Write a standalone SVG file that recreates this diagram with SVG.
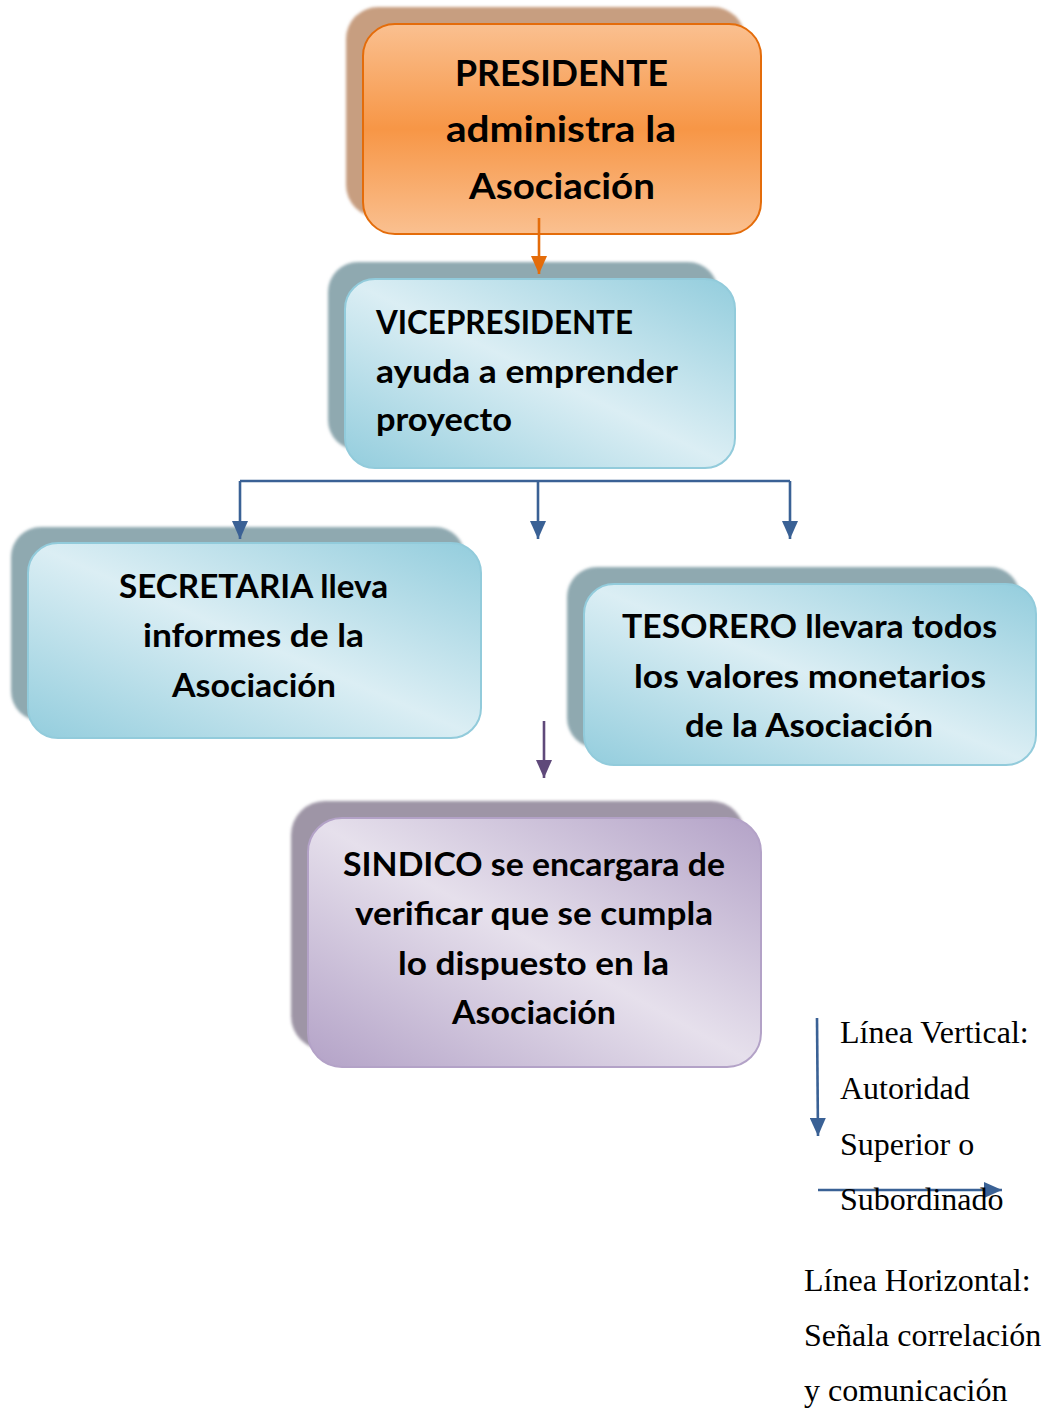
<svg xmlns="http://www.w3.org/2000/svg" width="1043" height="1408" viewBox="0 0 1043 1408">
<defs>
<linearGradient id="gOrange" x1="0" y1="0" x2="0" y2="1">
<stop offset="0" stop-color="#fac090"/>
<stop offset="0.5" stop-color="#f79646"/>
<stop offset="1" stop-color="#fac090"/>
</linearGradient>
<linearGradient id="gBlue" x1="0" y1="1" x2="1" y2="0">
<stop offset="0" stop-color="#93cddd"/>
<stop offset="0.5" stop-color="#dbeef4"/>
<stop offset="1" stop-color="#93cddd"/>
</linearGradient>
<linearGradient id="gPurple" x1="0" y1="1" x2="1" y2="0">
<stop offset="0" stop-color="#b3a2c7"/>
<stop offset="0.5" stop-color="#e6e0ec"/>
<stop offset="1" stop-color="#b3a2c7"/>
</linearGradient>
<filter id="blur" x="-10%" y="-10%" width="120%" height="120%">
<feGaussianBlur stdDeviation="1.5"/>
</filter>
<marker id="aBlue" viewBox="0 0 18 16" refX="18" refY="8" markerWidth="18" markerHeight="16" orient="auto" markerUnits="userSpaceOnUse">
<path d="M0,0 L18,8 L0,16 z" fill="#3a6195"/>
</marker>
<marker id="aOrange" viewBox="0 0 18 16" refX="18" refY="8" markerWidth="18" markerHeight="16" orient="auto" markerUnits="userSpaceOnUse">
<path d="M0,0 L18,8 L0,16 z" fill="#e46c0a"/>
</marker>
<marker id="aPurple" viewBox="0 0 18 16" refX="18" refY="8" markerWidth="18" markerHeight="16" orient="auto" markerUnits="userSpaceOnUse">
<path d="M0,0 L18,8 L0,16 z" fill="#5f497a"/>
</marker>
</defs>
<style>
.t{font-family:Lato,"Liberation Sans",sans-serif;font-weight:bold;fill:#000;font-size:33px}
.big{font-size:36px}
.c{text-anchor:middle}
.leg{font-family:"Liberation Serif","Times New Roman",serif;font-size:32px;fill:#000}
.shB{fill:#8fa9b0}
.shP{fill:#9e95a6}
.shO{fill:#c79e80}
.boxB{fill:url(#gBlue);stroke:#92cbdb;stroke-width:2}
.boxP{fill:url(#gPurple);stroke:#b3a2c7;stroke-width:2}
.boxO{fill:url(#gOrange);stroke:#e46c0a;stroke-width:2}
.lb{stroke:#3a6195;stroke-width:2.6;fill:none}
</style>

<g id="presidente">
<rect class="shO" x="346" y="7" width="399" height="210" rx="32" filter="url(#blur)"/>
<rect class="boxO" x="363" y="24" width="398" height="210" rx="32"/>
<text class="t big c" x="561.5" y="86" textLength="213" lengthAdjust="spacingAndGlyphs">PRESIDENTE</text>
<text class="t big c" x="561" y="142" textLength="230" lengthAdjust="spacingAndGlyphs">administra la</text>
<text class="t big c" x="562" y="199" textLength="186" lengthAdjust="spacingAndGlyphs">Asociación</text>
</g>

<g id="vicepresidente">
<rect class="shB" x="328" y="262" width="390" height="188" rx="30" filter="url(#blur)"/>
<rect class="boxB" x="345" y="279" width="390" height="189" rx="30"/>
<text class="t" x="376" y="334" textLength="257" lengthAdjust="spacingAndGlyphs">VICEPRESIDENTE</text>
<text class="t" x="376" y="383" textLength="302" lengthAdjust="spacingAndGlyphs">ayuda a emprender</text>
<text class="t" x="376" y="431" textLength="136" lengthAdjust="spacingAndGlyphs">proyecto</text>
</g>

<g id="secretaria">
<rect class="shB" x="11" y="527" width="454" height="194" rx="30" filter="url(#blur)"/>
<rect class="boxB" x="28" y="543" width="453" height="195" rx="30"/>
<text class="t c" x="253.5" y="598" textLength="269" lengthAdjust="spacingAndGlyphs">SECRETARIA lleva</text>
<text class="t c" x="253.5" y="647" textLength="221" lengthAdjust="spacingAndGlyphs">informes de la</text>
<text class="t c" x="254" y="697" textLength="164" lengthAdjust="spacingAndGlyphs">Asociación</text>
</g>

<g id="tesorero">
<rect class="shB" x="567" y="567" width="453" height="181" rx="30" filter="url(#blur)"/>
<rect class="boxB" x="584" y="584" width="452" height="181" rx="30"/>
<text class="t c" x="809.5" y="638" textLength="375" lengthAdjust="spacingAndGlyphs">TESORERO llevara todos</text>
<text class="t c" x="810" y="688" textLength="352" lengthAdjust="spacingAndGlyphs">los valores monetarios</text>
<text class="t c" x="809" y="737" textLength="248" lengthAdjust="spacingAndGlyphs">de la Asociación</text>
</g>

<g id="sindico">
<rect class="shP" x="291" y="801" width="454" height="249" rx="34" filter="url(#blur)"/>
<rect class="boxP" x="308" y="818" width="453" height="249" rx="34"/>
<text class="t c" x="534" y="876" textLength="382" lengthAdjust="spacingAndGlyphs">SINDICO se encargara de</text>
<text class="t c" x="534" y="925" textLength="358" lengthAdjust="spacingAndGlyphs">verificar que se cumpla</text>
<text class="t c" x="533.5" y="975" textLength="271" lengthAdjust="spacingAndGlyphs">lo dispuesto en la</text>
<text class="t c" x="534" y="1024" textLength="164" lengthAdjust="spacingAndGlyphs">Asociación</text>
</g>

<g id="connectors">
<line x1="539" y1="218" x2="539" y2="274" stroke="#e46c0a" stroke-width="2.6" marker-end="url(#aOrange)"/>
<path class="lb" d="M240,481 H790"/>
<line class="lb" x1="240" y1="481" x2="240" y2="539" marker-end="url(#aBlue)"/>
<line class="lb" x1="538" y1="481" x2="538" y2="539" marker-end="url(#aBlue)"/>
<line class="lb" x1="790" y1="481" x2="790" y2="539" marker-end="url(#aBlue)"/>
<line x1="544" y1="721" x2="544" y2="778" stroke="#5f497a" stroke-width="2.6" marker-end="url(#aPurple)"/>
</g>

<g id="legend">
<line class="lb" x1="817" y1="1018" x2="818" y2="1136" marker-end="url(#aBlue)"/>
<line class="lb" x1="818" y1="1190" x2="1002" y2="1190" marker-end="url(#aBlue)"/>
<text class="leg" x="840" y="1043">Línea Vertical:</text>
<text class="leg" x="840" y="1099">Autoridad</text>
<text class="leg" x="840" y="1155">Superior o</text>
<text class="leg" x="840" y="1210">Subordinado</text>
<text class="leg" x="804" y="1291">Línea Horizontal:</text>
<text class="leg" x="804" y="1346">Señala correlación</text>
<text class="leg" x="804" y="1401">y comunicación</text>
</g>
</svg>
